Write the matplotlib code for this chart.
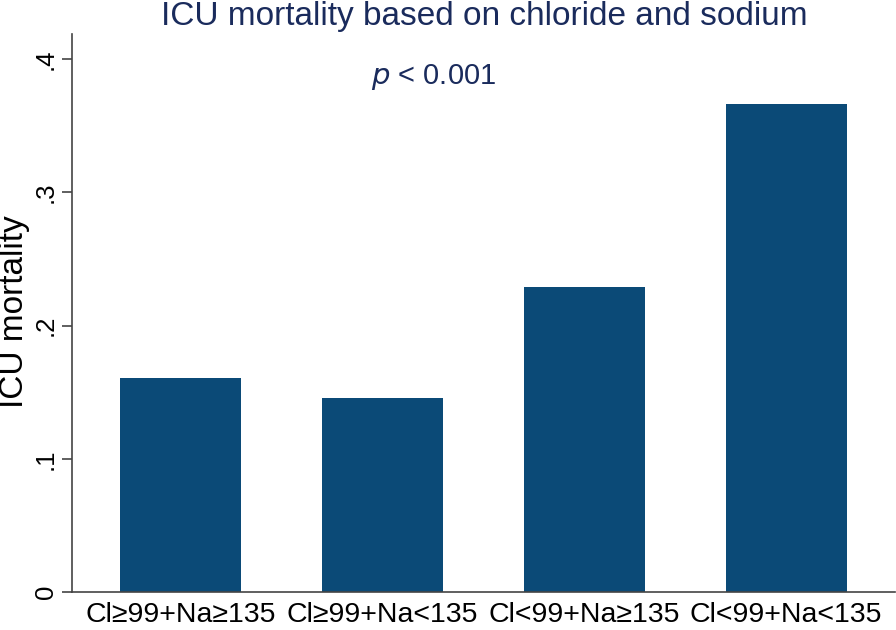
import matplotlib
matplotlib.use('Agg')
import matplotlib.pyplot as plt

groups = ["Cl\u226599+Na\u2265135", "Cl\u226599+Na<135", "Cl<99+Na\u2265135", "Cl<99+Na<135"]
mortality = [0.1605, 0.1455, 0.2288, 0.366]
ytick_vals = [0, 0.1, 0.2, 0.3, 0.4]
ytick_text = ["0", ".1", ".2", ".3", ".4"]

bar_color = "#0b4a77"
text_navy = "#1a2b5c"

plt.rcParams['font.family'] = ['Liberation Sans', 'DejaVu Sans']

fig = plt.figure(figsize=(8.96, 6.3), dpi=100)
ax = fig.add_axes([72 / 896, 1 - 592 / 630, (895 - 72) / 896, (592 - 34) / 630])

pos = list(range(len(groups)))
ax.bar(pos, mortality, width=0.6, color=bar_color)

ax.set_xlim(-0.54, 3.54)
ax.set_ylim(0, 0.4188)
ax.set_yticks(ytick_vals)
ax.set_yticklabels(ytick_text, rotation=90, va="center", fontsize=18.5)
ax.set_xticks(pos)
ax.set_xticklabels(groups, fontsize=20.5)
ax.tick_params(axis="x", length=0, pad=7)
ax.tick_params(axis="y", length=7, width=1.2, color="#444444", pad=3)

for side in ["top", "right"]:
    ax.spines[side].set_visible(False)
for side in ["left", "bottom"]:
    ax.spines[side].set_color("#444444")
    ax.spines[side].set_linewidth(1.2)

# y label placed by hand so it is not cut at the left edge
fig.text(15 / 896, 1 - 312 / 630, "ICU mortality", rotation=90,
         ha="center", va="center", fontsize=24)
fig.text(484 / 896, 1 - 1 / 630, "ICU mortality based on chloride and sodium",
         ha="center", va="top", fontsize=24, color=text_navy)
fig.text(434 / 896, 1 - 77 / 630, "$\\mathit{p}$ < 0.001",
         ha="center", va="center", fontsize=21, color=text_navy)

fig.savefig("out.png", dpi=100)
